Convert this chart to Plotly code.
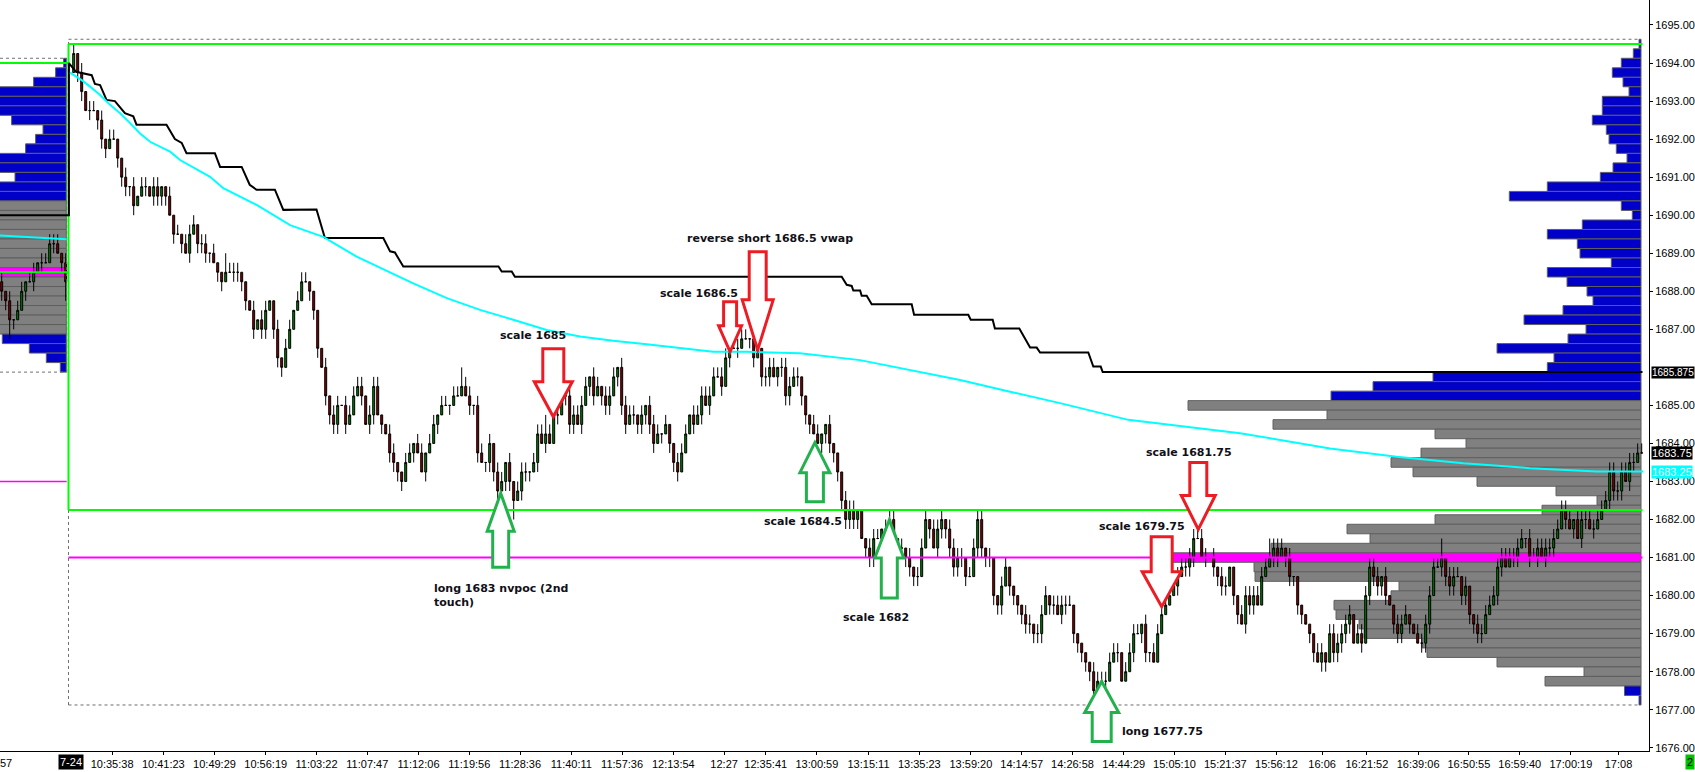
import plotly.graph_objects as go


# =========================
# Data (ES, tail of prior session + 7-24 session)
# =========================
TICK = 0.25

# prior session tail (17 bars)
PREV_OPEN = 1688.25
prev_close = [1688.0, 1687.75, 1687.25, 1687.25, 1687.5, 1688.0, 1688.25, 1688.25, 1688.5,
              1688.75, 1688.75, 1688.75, 1689.25, 1689.25, 1689.0, 1688.75, 1688.25]
prev_wick_up = "10101101101111101"
prev_wick_dn = "11210010101001012"

# 7-24 session, one close per bar
DAY_OPEN = 1693.75
day_close = [
    1694.25, 1693.75, 1693.25, 1692.75, 1692.75, 1692.75, 1692.5, 1692.0, 1691.75, 1692.0,
    1692.0, 1691.5, 1691.0, 1690.75, 1690.75, 1690.25, 1690.5, 1690.75, 1690.75, 1690.5,
    1690.75, 1690.5, 1690.75, 1690.5, 1690.0, 1689.5, 1689.5, 1689.25, 1689.0, 1689.5,
    1689.75, 1689.25, 1689.25, 1689.0, 1689.0, 1688.75, 1688.5, 1688.25, 1688.5, 1688.5,
    1688.5, 1688.5, 1688.25, 1687.75, 1687.5, 1687.0, 1687.25, 1687.0, 1687.5, 1687.75,
    1687.0, 1686.25, 1686.0, 1686.5, 1687.0, 1687.5, 1687.75, 1688.25, 1688.25, 1688.0,
    1687.5, 1686.5, 1686.0, 1685.25, 1684.75, 1684.5, 1685.0, 1685.0, 1684.5, 1684.75,
    1685.25, 1685.5, 1685.25, 1684.5, 1684.75, 1685.5, 1684.75, 1684.5, 1684.25, 1683.75,
    1683.5, 1683.25, 1683.0, 1683.5, 1683.75, 1684.0, 1683.75, 1683.25, 1683.75, 1684.0,
    1684.5, 1684.75, 1685.0, 1685.0, 1685.0, 1685.25, 1685.25, 1685.5, 1685.25, 1685.0,
    1685.0, 1683.75, 1683.5, 1683.5, 1684.0, 1683.25, 1682.75, 1683.0, 1683.5, 1683.0,
    1682.5, 1682.75, 1683.25, 1683.25, 1683.25, 1683.5, 1684.25, 1684.0, 1684.25, 1684.0,
    1684.75, 1684.75, 1685.25, 1685.25, 1684.5, 1684.75, 1684.5, 1685.0, 1685.5, 1685.75,
    1685.25, 1685.5, 1685.25, 1685.0, 1685.25, 1685.75, 1686.0, 1685.0, 1684.5, 1684.75,
    1684.75, 1684.5, 1684.75, 1685.0, 1684.5, 1684.0, 1684.25, 1684.25, 1684.5, 1684.0,
    1683.5, 1683.25, 1683.75, 1684.25, 1684.75, 1684.5, 1684.75, 1685.25, 1685.0, 1685.25,
    1685.75, 1685.75, 1685.5, 1686.25, 1686.5, 1686.5, 1686.5, 1686.75, 1686.75, 1686.75,
    1686.25, 1686.5, 1685.75, 1685.75, 1686.0, 1685.75, 1686.0, 1686.0, 1685.25, 1685.5,
    1685.75, 1685.75, 1685.25, 1684.75, 1684.5, 1684.25, 1684.0, 1684.25, 1684.5, 1684.0,
    1683.75, 1683.25, 1682.5, 1682.0, 1682.25, 1682.0, 1682.25, 1681.5, 1681.25, 1681.0,
    1681.5, 1681.5, 1681.75, 1681.75, 1682.0, 1681.5, 1681.25, 1681.25, 1681.0, 1680.75,
    1680.5, 1680.5, 1681.25, 1682.0, 1681.75, 1681.25, 1681.75, 1682.0, 1681.75, 1681.25,
    1680.75, 1681.0, 1681.0, 1680.5, 1680.5, 1681.25, 1682.0, 1681.25, 1681.0, 1681.0,
    1680.0, 1679.75, 1680.25, 1680.75, 1680.25, 1680.0, 1679.75, 1679.5, 1679.25, 1679.25,
    1679.0, 1679.0, 1679.5, 1680.0, 1679.75, 1679.75, 1679.5, 1679.75, 1679.75, 1679.75,
    1679.0, 1678.75, 1678.5, 1678.25, 1678.0, 1677.5, 1677.75, 1677.75, 1677.75, 1678.25,
    1678.5, 1678.5, 1677.75, 1678.0, 1678.5, 1679.0, 1679.0, 1679.25, 1678.5, 1678.5,
    1678.25, 1679.0, 1679.5, 1679.75, 1680.0, 1680.25, 1680.5, 1680.75, 1680.75, 1681.0,
    1681.5, 1681.5, 1681.0, 1681.0, 1681.0, 1680.75, 1680.5, 1680.25, 1680.25, 1680.75,
    1680.0, 1679.5, 1679.25, 1680.0, 1679.75, 1680.0, 1679.75, 1680.5, 1680.75, 1681.0,
    1681.25, 1681.0, 1681.25, 1681.0, 1680.5, 1680.5, 1679.75, 1679.5, 1679.25, 1679.0,
    1678.5, 1678.25, 1678.5, 1678.25, 1679.0, 1678.5, 1678.75, 1679.0, 1679.25, 1679.5,
    1678.75, 1679.0, 1678.75, 1680.0, 1680.75, 1680.5, 1680.25, 1680.5, 1680.0, 1679.75,
    1679.25, 1679.0, 1679.25, 1679.5, 1679.25, 1679.0, 1678.75, 1678.75, 1679.25, 1680.0,
    1680.75, 1680.75, 1681.0, 1680.5, 1680.25, 1680.5, 1680.5, 1680.0, 1680.25, 1679.5,
    1679.25, 1679.0, 1679.0, 1679.5, 1679.75, 1680.0, 1680.75, 1681.0, 1680.75, 1681.0,
    1681.0, 1681.25, 1681.5, 1681.5, 1681.0, 1681.0, 1681.25, 1681.0, 1681.25, 1681.25,
    1681.5, 1681.75, 1682.25, 1682.0, 1681.75, 1682.0, 1681.5, 1682.0, 1682.0, 1681.75,
    1681.75, 1682.0, 1682.25, 1682.5, 1683.25, 1682.75, 1682.75, 1683.25, 1683.0, 1683.5,
    1683.5, 1683.75, 1683.75,
]
# wick length in ticks beyond the body, one digit per bar
day_wick_up = "".join([
    "1010110101", "1001010110", "1100101011", "1011010021", "1100010110",
    "0101101110", "0001011011", "1110111001", "1001101101", "1011011211",
    "0110101101", "0111011121", "1110111110", "1101110111", "1010111010",
    "0111011111", "1111011110", "2101110111", "1100011001", "0001110001",
    "1101110101", "0111011101", "1110111101", "0011000011", "0111011111",
    "0000011111", "1101111010", "1111011111", "1111010110", "0011111112",
    "1110100000", "0110111111", "0111111010", "0111001111", "1120111010",
    "0111111111", "1110111111", "1111101111", "1111111111", "111",
])
day_wick_dn = "".join([
    "0110101110", "0111110010", "1111010101", "0111101100", "1111010110",
    "1110000001", "1101111010", "0010110101", "1110010010", "0100100001",
    "1101111011", "2011101010", "0101110101", "1011101110", "1111110101",
    "1100010101", "0010101001", "1011101111", "0111100111", "1111111011",
    "1011101111", "1100101111", "1111001111", "1110111111", "1110110110",
    "1111111110", "0100010111", "0000001011", "1001011110", "1101110000",
    "1101111101", "1011011111", "0010111110", "1110100111", "0011110111",
    "1110001100", "1101101011", "1001010110", "1000111101", "100",
])

# volume profiles: row length as drawn (px), top row first, one row per tick
prof_top = 1694.5
prof_len = [
    2, 7.7, 19.7, 28.7, 18, 12, 38.7, 38.7, 48.7, 34.7,
    32, 24.7, 14, 28, 40.7, 93.7, 131.7, 19.7, 8.7, 58.7,
    93.7, 63.7, 61, 29.7, 93.7, 74, 54, 48, 78, 117,
    55, 73, 144, 87, 93.7, 208, 268, 310, 453, 314,
    368, 206, 175, 220, 250, 228, 164, 85, 44, 99,
    206, 294, 271, 370, 468, 387, 386, 242, 250, 307,
    305, 282, 277, 219, 214, 144, 57, 96, 16.5, 2,
]
VA_HIGH, VA_LOW, POC = 1685.0, 1677.75, 1681.0

prev_prof_top = 1694.0
prev_prof_len = [
    2.7, 10.7, 32.7, 80, 80, 80, 54.7, 23.3, 30.7, 40.7, 80, 80, 51.3, 80, 80,
    80, 80, 80, 80, 80, 80, 80, 80, 80, 80, 80, 80, 80, 80,
    64, 37, 20, 6,
]
PREV_VA_HIGH, PREV_VA_LOW, PREV_POC = 1690.25, 1687.0, 1688.5

# developing value line (black) and VWAP (cyan): vertices, x in bar index
vah_x = [-0.5, 16.8, 16.8, 18.6, 22.5, 23.3, 24.6, 26.2, 28.3, 30.8, 32.9, 33.7, 41.2, 43.3,
         45.0, 46.2, 53.3, 54.6, 60.0, 62.0, 63.7, 68.3, 70.4, 78.7, 80.8, 95.4, 97.1, 98.3,
         100.4, 124.2, 125.0, 127.5, 128.3, 210.0, 211.25, 212.5, 212.9, 214.6, 215.0, 216.25,
         217.5, 227.5, 228.1, 241.65, 242.25, 247.75, 248.3, 254.4, 257.1, 258.75, 259.6,
         271.65, 272.9, 274.75, 275.25, 410.2]
vah_y = [1690.0, 1690.0, 1694.0, 1693.77, 1693.68, 1693.45, 1693.42, 1693.03, 1693.0, 1692.68,
         1692.6, 1692.38, 1692.38, 1692.0, 1691.9, 1691.63, 1691.63, 1691.27, 1691.27, 1690.8,
         1690.67, 1690.67, 1690.14, 1690.15, 1689.4, 1689.4, 1689.05, 1689.02, 1688.65, 1688.65,
         1688.52, 1688.52, 1688.38, 1688.38, 1688.17, 1688.14, 1688.02, 1688.02, 1687.88,
         1687.88, 1687.66, 1687.66, 1687.38, 1687.38, 1687.25, 1687.25, 1687.02, 1687.02,
         1686.52, 1686.52, 1686.39, 1686.39, 1686.02, 1686.02, 1685.875, 1685.875]

prev_vwap_x = [-0.5, 16.25]
prev_vwap_y = [1689.47, 1689.37]
vwap_x = [17.1, 20.0, 22.1, 24.6, 27.1, 29.6, 32.1, 34.6, 37.1, 39.6, 42.1, 44.6, 47.1, 49.6,
          52.1, 55.4, 63.75, 72.1, 80.4, 88.75, 94.6, 102.9, 111.3, 119.6, 127.9, 136.25,
          144.6, 152.9, 161.25, 169.6, 177.9, 186.25, 199.6, 214.6, 227.1, 239.6, 252.1,
          264.6, 281.65, 309.6, 332.1, 348.75, 365.4, 382.1, 398.75, 410.4]
vwap_y = [1693.75, 1693.55, 1693.38, 1693.16, 1692.9, 1692.68, 1692.42, 1692.15, 1691.93,
          1691.8, 1691.67, 1691.45, 1691.3, 1691.14, 1691.01, 1690.71, 1690.27, 1689.74,
          1689.43, 1688.91, 1688.62, 1688.21, 1687.82, 1687.51, 1687.25, 1686.98, 1686.81,
          1686.7, 1686.61, 1686.5, 1686.41, 1686.41, 1686.37, 1686.19, 1685.93, 1685.67,
          1685.36, 1685.06, 1684.62, 1684.27, 1683.87, 1683.65, 1683.48, 1683.35, 1683.26,
          1683.26]

# session levels
IB_HIGH, IB_LOW = 1694.5, 1682.25
PREV_IB_HIGH, PREV_IB_LOW = 1694.0, 1688.5
OLD_NPOC = 1683.0

# price scale labels (1686.00 sits under the 1685.875 tag)
price_ticks = [1676, 1677, 1678, 1679, 1680, 1681, 1682, 1683, 1684, 1685,
               1687, 1688, 1689, 1690, 1691, 1692, 1693, 1694, 1695]

# time axis labels (bar index under each label)
tick_bar = [27.6, 40.4, 53.2, 66.0, 78.7, 91.4, 104.2, 116.9, 129.6, 142.4, 155.1, 167.9,
            180.6, 191.0, 203.8, 216.7, 229.4, 242.3, 255.0, 267.7, 280.5, 293.2, 305.9,
            318.7, 330.1, 341.3, 354.1, 366.8, 379.5, 392.3, 404.2]
tick_text = ["10:35:38", "10:41:23", "10:49:29", "10:56:19", "11:03:22", "11:07:47",
             "11:12:06", "11:19:56", "11:28:36", "11:40:11", "11:57:36", "12:13:54", "12:27",
             "12:35:41", "13:00:59", "13:15:11", "13:35:23", "13:59:20", "14:14:57",
             "14:26:58", "14:44:29", "15:05:10", "15:21:37", "15:56:12", "16:06", "16:21:52",
             "16:39:06", "16:50:55", "16:59:40", "17:00:19", "17:08"]
DAY_LABEL_BAR = 17.2

# trade notes
notes = [
    ("reverse short 1686.5 vwap", 170.8, 1689.4),
    ("scale 1686.5", 164.1, 1687.93),
    ("scale 1685", 124.1, 1686.85),
    ("scale 1684.5", 190.1, 1681.94),
    ("scale 1682", 209.8, 1679.42),
    ("scale 1679.75", 273.8, 1681.81),
    ("scale 1681.75", 285.6, 1683.77),
    ("long 1677.75", 279.6, 1676.42),
]
# arrows: tip bar, tip price, direction, then size in px (length, head length, head width, shaft width)
arrows = [
    (137.9, 1684.70, "down", 68, 35, 38, 21),
    (182.1, 1686.41, "down", 50, 26, 23, 13),
    (189.0, 1686.46, "down", 98, 50, 31, 17),
    (290.0, 1679.71, "down", 70, 35, 39, 21),
    (299.15, 1681.74, "down", 67, 34, 34, 17),
    (124.75, 1682.69, "up", 74, 38, 27, 16),
    (203.3, 1684.02, "up", 59, 30, 30, 17),
    (221.9, 1681.99, "up", 78, 38, 29, 16),
    (275.0, 1677.74, "up", 60, 31, 34, 19),
]

# =========================
# Layout geometry
# =========================
W, H = 1695, 772
M_L, M_R, M_T, M_B = 0, 46, 0, 21
X_RANGE = [-0.425, 411.825]
Y_RANGE = [1675.915, 1695.657]
PX_PER_BAR = (W - M_L - M_R) / (X_RANGE[1] - X_RANGE[0])
PX_PER_PT = (H - M_T - M_B) / (Y_RANGE[1] - Y_RANGE[0])

DAY_START = 16.7      # session separator (bar units)
PREV_END = 16.25
DAY_END = 410.2
PROF_ANCHOR = 409.83  # right profile anchored at the last bar
PREV_PROF_ANCHOR = 16.15

BLUE, GRAY, MAGENTA = "#0000C8", "#808080", "#FF00FF"
LIME, CYAN = "#00FF00", "#00FFFF"
RED_ARROW, GREEN_ARROW = "#ED1C24", "#22B14C"

# =========================
# Build OHLC
# =========================
n_prev = len(prev_close)
closes = prev_close + day_close
opens = [PREV_OPEN] + prev_close[:-1] + [DAY_OPEN] + day_close[:-1]
ups = prev_wick_up + day_wick_up
dns = prev_wick_dn + day_wick_dn
assert len(ups) == len(closes) and len(dns) == len(closes), (len(ups), len(dns), len(closes))
highs = [max(o, c) + TICK * int(u) for o, c, u in zip(opens, closes, ups)]
lows = [min(o, c) - TICK * int(d) for o, c, d in zip(opens, closes, dns)]
bar_x = list(range(n_prev)) + list(range(n_prev + 1, n_prev + 1 + len(day_close)))


def profile_trace(top, lengths, anchor, va_hi, va_lo, poc):
    levels = [top - TICK * i for i in range(len(lengths))]
    colors = []
    for p in levels:
        if abs(p - poc) < 1e-9:
            colors.append(MAGENTA)
        elif va_lo - 1e-9 <= p <= va_hi + 1e-9:
            colors.append(GRAY)
        else:
            colors.append(BLUE)
    return go.Bar(
        y=levels, x=[-v / PX_PER_BAR for v in lengths], base=anchor, orientation="h",
        width=TICK, marker=dict(color=colors, line=dict(color="#5f5f5f", width=1)),
        hoverinfo="skip", showlegend=False,
    )


def hline(y, x0, x1, color, width=2, dash="solid"):
    return go.Scatter(x=[x0, x1], y=[y, y], mode="lines", line=dict(color=color, width=width, dash=dash),
                      hoverinfo="skip", showlegend=False)


def vline(x, y0, y1, color, width=2, dash="solid"):
    return go.Scatter(x=[x, x], y=[y0, y1], mode="lines", line=dict(color=color, width=width, dash=dash),
                      hoverinfo="skip", showlegend=False)


fig = go.Figure()

# profiles
fig.add_trace(profile_trace(prof_top, prof_len, PROF_ANCHOR, VA_HIGH, VA_LOW, POC))
fig.add_trace(profile_trace(prev_prof_top, prev_prof_len, PREV_PROF_ANCHOR, PREV_VA_HIGH, PREV_VA_LOW, PREV_POC))

# candles
fig.add_trace(go.Candlestick(
    x=bar_x, open=opens, high=highs, low=lows, close=closes,
    increasing=dict(line=dict(color="black", width=1), fillcolor="#008000"),
    decreasing=dict(line=dict(color="black", width=1), fillcolor="#8B0000"),
    whiskerwidth=0, hoverinfo="skip", showlegend=False,
))

# session boxes (range = profile extent, dashed)
half = TICK / 2
rng_hi, rng_lo = prof_top + half, prof_top - TICK * (len(prof_len) - 1) - half
p_rng_hi, p_rng_lo = prev_prof_top + half, prev_prof_top - TICK * (len(prev_prof_len) - 1) - half
DASH = "3px,3px"
for tr in [
    hline(rng_hi, DAY_START, DAY_END - 0.8, "#707070", 1, DASH),
    hline(rng_lo, DAY_START, DAY_END - 0.8, "#707070", 1, DASH),
    vline(DAY_START, rng_lo, rng_hi, "#707070", 1, DASH),
    hline(p_rng_hi, X_RANGE[0], PREV_END, "#707070", 1, DASH),
    hline(p_rng_lo, X_RANGE[0], PREV_END, "#707070", 1, DASH),
    vline(PREV_END, p_rng_lo, p_rng_hi, "#707070", 1, DASH),
    hline(POC, DAY_START, DAY_END, MAGENTA, 2),
    hline(OLD_NPOC, X_RANGE[0], PREV_END, MAGENTA, 1.5),
    hline(IB_HIGH, DAY_START, DAY_END, LIME, 2),
    hline(IB_LOW, DAY_START, DAY_END, LIME, 2),
    vline(DAY_START, IB_LOW, IB_HIGH, LIME, 2),
    hline(PREV_IB_HIGH, X_RANGE[0], DAY_START, LIME, 2),
    hline(PREV_IB_LOW, X_RANGE[0], DAY_START, LIME, 2),
]:
    fig.add_trace(tr)

# value line + vwap
fig.add_trace(go.Scatter(x=vah_x, y=vah_y, mode="lines", line=dict(color="black", width=2),
                         hoverinfo="skip", showlegend=False))
fig.add_trace(go.Scatter(x=prev_vwap_x, y=prev_vwap_y, mode="lines", line=dict(color=CYAN, width=2),
                         hoverinfo="skip", showlegend=False))
fig.add_trace(go.Scatter(x=vwap_x, y=vwap_y, mode="lines", line=dict(color=CYAN, width=2),
                         hoverinfo="skip", showlegend=False))


# arrows as outlined block arrows
def arrow_path(tx, ty, direction, length, head, head_w, shaft_w):
    sx, sy = 1.0 / PX_PER_BAR, 1.0 / PX_PER_PT
    k = -1 if direction == "up" else 1
    pts = [
        (tx, ty),
        (tx + head_w / 2 * sx, ty + k * head * sy),
        (tx + shaft_w / 2 * sx, ty + k * head * sy),
        (tx + shaft_w / 2 * sx, ty + k * length * sy),
        (tx - shaft_w / 2 * sx, ty + k * length * sy),
        (tx - shaft_w / 2 * sx, ty + k * head * sy),
        (tx - head_w / 2 * sx, ty + k * head * sy),
    ]
    return "M " + " L ".join("{:.4f},{:.4f}".format(x, y) for x, y in pts) + " Z"


shapes = []
for tx, ty, d, ln, hd, hw, sw in arrows:
    shapes.append(dict(
        type="path", xref="x", yref="y", path=arrow_path(tx, ty, d, ln, hd, hw, sw),
        line=dict(color=RED_ARROW if d == "down" else GREEN_ARROW, width=3),
        fillcolor="white", layer="above",
    ))

NOTE_FONT = dict(family="DejaVu Sans, Verdana, sans-serif", size=11, color="#101018")
annotations = []
for txt, x, y in notes:
    annotations.append(dict(x=x, y=y, xref="x", yref="y", text="<b>%s</b>" % txt, showarrow=False,
                            xanchor="left", yanchor="middle", font=NOTE_FONT))
annotations.append(dict(x=107.6, y=1680.41, xref="x", yref="y",
                        text="<b>long 1683 nvpoc (2nd<br>touch)</b>", showarrow=False,
                        xanchor="left", yanchor="top", align="left", font=NOTE_FONT))

AX_FONT = dict(family="Liberation Sans, Arial, sans-serif", size=11, color="black")
# price tags on the right scale
for val, txt, bg, size in [(1685.875, "1685.875", "black", 10), (1683.75, "1683.75", "black", 11),
                           (1683.25, "1683.25", CYAN, 11)]:
    annotations.append(dict(x=1, y=val, xref="paper", yref="y", text=txt, showarrow=False,
                            xanchor="left", yanchor="middle", xshift=2, bgcolor=bg, borderpad=0,
                            font=dict(family=AX_FONT["family"], size=size, color="white")))
# session date tag, cut-off label, corner tag
annotations.append(dict(x=DAY_LABEL_BAR, y=0, xref="x", yref="paper", text="7-24", showarrow=False,
                        xanchor="center", yanchor="top", yshift=-3, bgcolor="black", borderpad=1,
                        font=dict(family=AX_FONT["family"], size=11, color="white")))
annotations.append(dict(x=0, y=0, xref="paper", yref="paper", text="57", showarrow=False,
                        xanchor="left", yanchor="top", yshift=-4, xshift=-2, font=AX_FONT))
annotations.append(dict(x=1.0, y=0, xref="paper", yref="paper", text="2", showarrow=False,
                        xanchor="left", yanchor="top", xshift=36, yshift=-3, bgcolor="#00C000",
                        borderpad=1, font=AX_FONT))

fig.update_layout(
    width=W, height=H,
    margin=dict(l=M_L, r=M_R, t=M_T, b=M_B, pad=0),
    paper_bgcolor="white", plot_bgcolor="white",
    barmode="overlay", showlegend=False,
    font=AX_FONT,
    shapes=shapes, annotations=annotations,
    xaxis=dict(
        range=X_RANGE, showgrid=False, zeroline=False, rangeslider=dict(visible=False),
        tickmode="array", tickvals=tick_bar, ticktext=tick_text,
        ticks="outside", ticklen=3, tickcolor="black", showline=True, linecolor="black",
        linewidth=1, tickfont=AX_FONT, fixedrange=True,
    ),
    yaxis=dict(
        range=Y_RANGE, side="right", showgrid=False, zeroline=False,
        tickmode="array", tickvals=price_ticks, tickformat=".2f",
        ticks="outside", ticklen=3, tickcolor="black", showline=True, linecolor="black",
        linewidth=1, tickfont=AX_FONT, fixedrange=True,
    ),
)

fig.write_html("out.html", config={"displayModeBar": False},
               post_script="document.body.style.margin='0px';document.body.style.overflow='hidden';")
